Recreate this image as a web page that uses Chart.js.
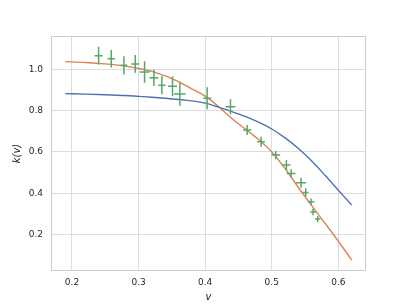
<!DOCTYPE html>
<html>
<head>
<meta charset="utf-8">
<script src="https://cdn.jsdelivr.net/npm/chart.js@4.4.1/dist/chart.umd.min.js"></script>
<style>
  html, body { margin: 0; padding: 0; background: #fff; }
  canvas { display: block; }
</style>
</head>
<body>
<canvas id="kChart" width="407" height="305"></canvas>
<script>
// measured points with error bars
var ptX  = [0.240, 0.259, 0.278, 0.295, 0.309, 0.323, 0.335, 0.351, 0.362, 0.403, 0.438,
            0.463, 0.484, 0.506, 0.522, 0.529, 0.544, 0.551, 0.559, 0.562, 0.569];
var ptY  = [1.066, 1.051, 1.019, 1.026, 0.987, 0.959, 0.923, 0.918, 0.880, 0.860, 0.819,
            0.706, 0.649, 0.585, 0.537, 0.496, 0.451, 0.404, 0.359, 0.310, 0.275];
var errX = [0.006, 0.0055, 0.005, 0.006, 0.0075, 0.0067, 0.0055, 0.0067, 0.0087, 0.006, 0.0075,
            0.0063, 0.0057, 0.0067, 0.006, 0.0067, 0.0075, 0.004, 0.005, 0.0042, 0.004];
var errY = [0.043, 0.042, 0.044, 0.043, 0.052, 0.040, 0.044, 0.048, 0.056, 0.053, 0.036,
            0.024, 0.024, 0.020, 0.024, 0.020, 0.024, 0.020, 0.016, 0.016, 0.015];

// the two model curves
var curveX = [0.19, 0.22, 0.25, 0.28, 0.30, 0.32, 0.34, 0.36, 0.38, 0.40, 0.42,
              0.44, 0.46, 0.48, 0.50, 0.52, 0.54, 0.56, 0.58, 0.60, 0.62];
var blueY  = [0.882, 0.880, 0.877, 0.873, 0.869, 0.865, 0.860, 0.854, 0.847, 0.836, 0.817,
              0.795, 0.772, 0.744, 0.711, 0.668, 0.617, 0.556, 0.487, 0.415, 0.343];
var orangeY = [1.037, 1.033, 1.026, 1.015, 1.004, 0.990, 0.968, 0.940, 0.905, 0.870, 0.820,
               0.762, 0.712, 0.660, 0.600, 0.520, 0.428, 0.340, 0.255, 0.168, 0.077];

var xTicks = [0.2, 0.3, 0.4, 0.5, 0.6];
var yTicks = [0.2, 0.4, 0.6, 0.8, 1.0];

function toPoints(xs, ys) {
  return xs.map(function (x, i) { return { x: x, y: ys[i] }; });
}

// error bars as short segments separated by gaps
var errSegs = [];
ptX.forEach(function (x, i) {
  var y = ptY[i];
  errSegs.push({ x: x, y: y - errY[i] }, { x: x, y: y + errY[i] }, { x: x, y: null });
  errSegs.push({ x: x - errX[i], y: y }, { x: x + errX[i], y: y }, { x: x, y: null });
});

var frame = {
  id: 'frame',
  afterDraw: function (chart) {
    var a = chart.chartArea, c = chart.ctx;
    c.save();
    c.strokeStyle = '#cccccc';
    c.lineWidth = 1;
    c.strokeRect(a.left + 0.5, a.top + 0.5, a.right - a.left - 1, a.bottom - a.top - 1);
    c.restore();
  }
};

var tickFont = { family: 'DejaVu Sans', size: 9 };

var ctx = document.getElementById('kChart').getContext('2d');
var kChart = new Chart(ctx, {
  type: 'line',
  data: {
    datasets: [
      {
        data: errSegs,
        borderColor: '#55a868',
        borderWidth: 1.5,
        pointRadius: 0,
        spanGaps: false
      },
      {
        data: toPoints(curveX, blueY),
        borderColor: '#4c72b0',
        borderWidth: 1.4,
        pointRadius: 0,
        cubicInterpolationMode: 'monotone'
      },
      {
        data: toPoints(curveX, orangeY),
        borderColor: '#dd8452',
        borderWidth: 1.4,
        pointRadius: 0,
        cubicInterpolationMode: 'monotone'
      }
    ]
  },
  options: {
    responsive: false,
    animation: false,
    layout: { padding: { left: 0, top: 36, right: 41, bottom: 0 } },
    scales: {
      x: {
        type: 'linear',
        min: 0.1685,
        max: 0.6415,
        afterBuildTicks: function (s) { s.ticks = xTicks.map(function (v) { return { value: v }; }); },
        afterFit: function (s) { s.height = 34; },
        grid: { color: '#dddddd', lineWidth: 1, drawTicks: false },
        border: { display: false },
        ticks: {
          color: '#262626', font: tickFont, padding: 6,
          callback: function (v) { return v.toFixed(1); }
        },
        title: {
          display: true, text: 'v', color: '#262626',
          font: { family: 'DejaVu Sans', size: 10, style: 'italic' },
          padding: { top: 0, bottom: 2 }
        }
      },
      y: {
        type: 'linear',
        min: 0.024,
        max: 1.161,
        afterBuildTicks: function (s) { s.ticks = yTicks.map(function (v) { return { value: v }; }); },
        afterFit: function (s) { s.width = 51; },
        grid: { color: '#dddddd', lineWidth: 1, drawTicks: false },
        border: { display: false },
        ticks: {
          color: '#262626', font: tickFont, padding: 8,
          callback: function (v) { return v.toFixed(1); }
        },
        title: {
          display: true, text: 'k(v)', color: '#262626',
          font: { family: 'DejaVu Sans', size: 10, style: 'italic' },
          padding: { top: 11, bottom: 0 }
        }
      }
    },
    plugins: {
      legend: { display: false },
      tooltip: { enabled: false }
    }
  },
  plugins: [frame]
});
</script>
</body>
</html>
